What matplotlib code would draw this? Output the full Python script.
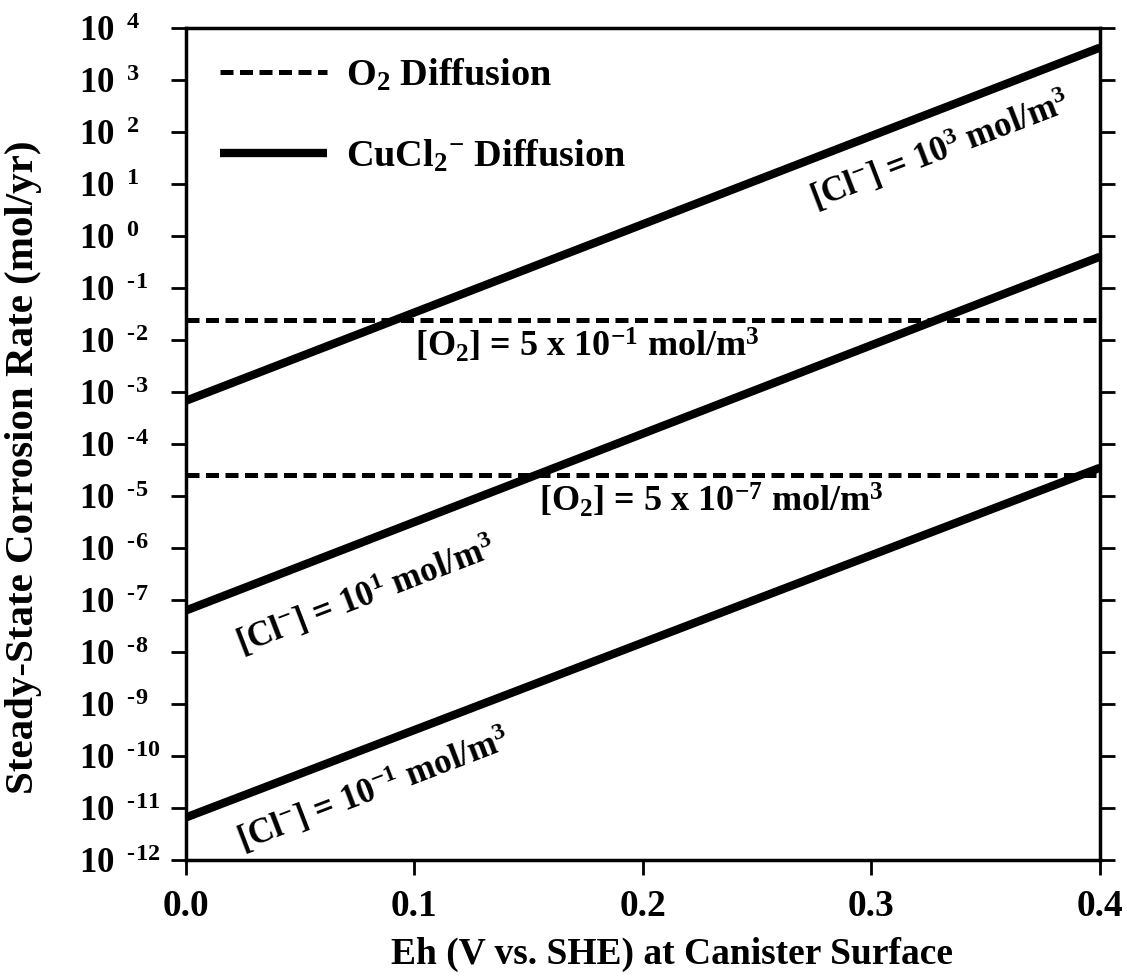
import math
import matplotlib
matplotlib.use("Agg")
import matplotlib.pyplot as plt
from matplotlib.ticker import FixedLocator, FuncFormatter

plt.rcParams['font.family'] = ['Liberation Serif', 'DejaVu Serif']
plt.rcParams['font.weight'] = 'bold'
plt.rcParams['mathtext.fontset'] = 'custom'
plt.rcParams['mathtext.rm'] = 'Liberation Serif:bold'
plt.rcParams['mathtext.it'] = 'Liberation Serif:bold'
plt.rcParams['mathtext.bf'] = 'Liberation Serif:bold'
plt.rcParams['mathtext.default'] = 'rm'

# Eh end points of every line (V vs. SHE)
eh = [0.0, 0.4]

# CuCl2- diffusion limited rates (mol/yr) at Eh = 0.0 and 0.4
cl_1e3 = [6.8e-4, 4.2e3]
cl_1e1 = [6.3e-8, 4.0e-1]
cl_1em1 = [6.6e-12, 3.5e-5]

# O2 diffusion limited rates (mol/yr), flat
o2_high = [2.4e-2, 2.4e-2]
o2_low = [2.5e-5, 2.5e-5]

y_decades = list(range(-12, 5))
x_ticks = [0.0, 0.1, 0.2, 0.3, 0.4]


def dec_label(v, pos):
    e = round(math.log10(v))
    s = str(e).replace('-', '\u2010')
    return r'$10\;\,{}^{%s}$' % s


fig = plt.figure(figsize=(11.27, 9.8), dpi=100)
ax = fig.add_axes([0.165, 0.1224, 0.811, 0.849])

dash = (2.6, 1.3)
ax.plot(eh, o2_high, color='black', lw=3.6, linestyle=(0, dash), label='O$_2$ Diffusion')
ax.plot(eh, o2_low, color='black', lw=3.6, linestyle=(0, dash))
ax.plot(eh, cl_1e3, color='black', lw=6, solid_capstyle='butt', label='CuCl$_2$$^{-}$ Diffusion')
ax.plot(eh, cl_1e1, color='black', lw=6, solid_capstyle='butt')
ax.plot(eh, cl_1em1, color='black', lw=6, solid_capstyle='butt')

ax.set_yscale('log')
ax.set_xlim(0.0, 0.4)
ax.set_ylim(1e-12, 1e4)
ax.yaxis.set_major_locator(FixedLocator([10.0 ** d for d in y_decades]))
ax.yaxis.set_minor_locator(FixedLocator([]))
ax.yaxis.set_major_formatter(FuncFormatter(dec_label))
ax.set_xticks(x_ticks)
ax.xaxis.set_major_formatter(FuncFormatter(lambda v, p: '%.1f' % v))

ax.tick_params(axis='y', which='major', direction='out', length=11, width=2,
               labelsize=25, right=True, left=True, pad=66)
ax.tick_params(axis='x', which='major', direction='out', length=11, width=2,
               labelsize=27, pad=10)
for lab in ax.get_yticklabels():
    lab.set_horizontalalignment('left')
for s in ax.spines.values():
    s.set_linewidth(2.5)

ax.set_xlabel('Eh (V vs. SHE) at Canister Surface', fontsize=27, fontweight='bold')
ax.xaxis.set_label_coords(0.532, -0.092)
ax.set_ylabel('Steady-State Corrosion Rate (mol/yr)', fontsize=29.5, fontweight='bold')
ax.yaxis.set_label_coords(-0.157, 0.472)

leg = ax.legend(loc='upper left', bbox_to_anchor=(0.037, 0.965), frameon=False,
                borderaxespad=0, borderpad=0,
                fontsize=27.5, handlelength=2.8, handletextpad=0.5, labelspacing=1.17)

rot = 21
fs = 25
ax.text(0.33, 10 ** 1.65, '[Cl$^{-}$] = 10$^{3}$ mol/m$^{3}$', fontsize=fs,
        rotation=rot, ha='center', va='center', rotation_mode='anchor')
ax.text(0.0786, 10 ** -6.9, '[Cl$^{-}$] = 10$^{1}$ mol/m$^{3}$', fontsize=fs,
        rotation=rot, ha='center', va='center', rotation_mode='anchor')
ax.text(0.082, 10 ** -10.65, '[Cl$^{-}$] = 10$^{-1}$ mol/m$^{3}$', fontsize=fs,
        rotation=rot, ha='center', va='center', rotation_mode='anchor')
ax.text(0.1755, 10 ** -2.1, '[O$_2$] = 5 x 10$^{-1}$ mol/m$^{3}$', fontsize=26,
        ha='center', va='center')
ax.text(0.23, 10 ** -5.08, '[O$_2$] = 5 x 10$^{-7}$ mol/m$^{3}$', fontsize=26,
        ha='center', va='center')

fig.savefig('out.png', dpi=100)
